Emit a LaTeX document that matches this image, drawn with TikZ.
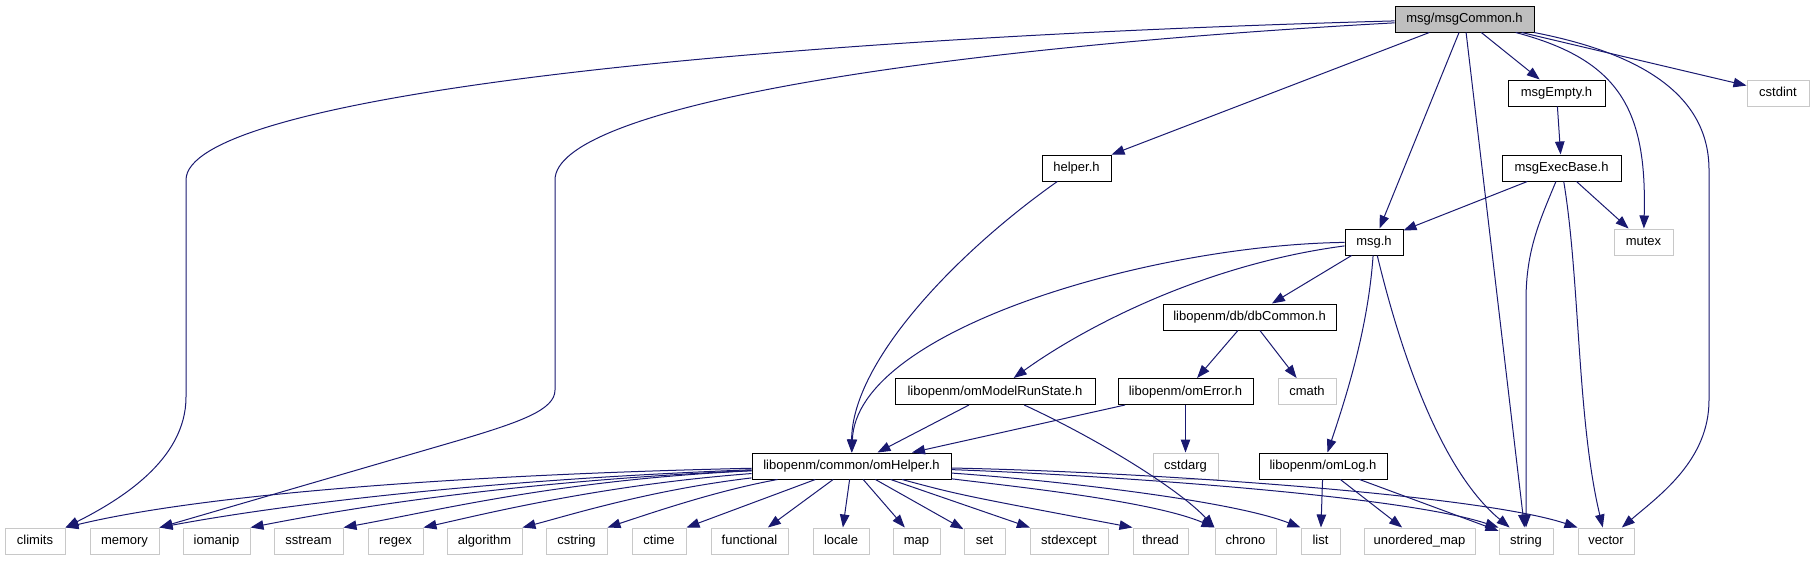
\documentclass[tikz,border=0pt]{standalone}
\usepackage{fontspec}
\setmainfont{Liberation Sans}
\usetikzlibrary{arrows.meta}
\definecolor{linkblue}{RGB}{25,25,112}
\definecolor{rootgrey}{RGB}{191,191,191}
\definecolor{extgrey}{RGB}{200,200,200}

\begin{document}
\begin{tikzpicture}[x=1pt,y=-1pt,
    hdr/.style={draw=black,line width=1pt,fill=white,minimum height=26pt,inner sep=2pt,
        text height=10pt,text depth=2.6pt,font=\fontsize{13}{15}\selectfont},
    sys/.style={hdr,draw=extgrey},
    inc/.style={draw=linkblue,line width=1pt,-{Triangle[length=13pt,width=9.5pt]}}]
        \useasboundingbox (0,0) rectangle (1814,560);
        % fitxers del projecte
        \node[hdr,fill=rootgrey,minimum width=139pt] (msgcommon) at (1464.5,19) {msg/msgCommon.h};
        \node[hdr,minimum width=97pt] (msgempty) at (1556.5,93) {msgEmpty.h};
        \node[hdr,minimum width=119pt] (msgexecbase) at (1561.5,168) {msgExecBase.h};
        \node[hdr,minimum width=69pt] (helper) at (1076.5,168) {helper.h};
        \node[hdr,minimum width=58pt] (msgh) at (1374,242) {msg.h};
        \node[hdr,minimum width=173pt] (dbcommon) at (1249.5,317) {libopenm/db/dbCommon.h};
        \node[hdr,minimum width=200pt] (runstate) at (995,391.5) {libopenm/omModelRunState.h};
        \node[hdr,minimum width=135pt] (omerror) at (1185.5,391.5) {libopenm/omError.h};
        \node[hdr,minimum width=199pt] (omhelper) at (851.5,466) {libopenm/common/omHelper.h};
        \node[hdr,minimum width=128pt] (omlog) at (1323,466) {libopenm/omLog.h};
        % capcaleres del sistema
        \node[sys,minimum width=62pt] (cstdint) at (1778,93) {cstdint};
        \node[sys,minimum width=59pt] (mutex) at (1643.5,242) {mutex};
        \node[sys,minimum width=58pt] (cmath) at (1307,391.5) {cmath};
        \node[sys,minimum width=65pt] (cstdarg) at (1185.5,466) {cstdarg};
        \node[sys,minimum width=60pt] (climits) at (35,541) {climits};
        \node[sys,minimum width=69pt] (memory) at (124.5,541) {memory};
        \node[sys,minimum width=67pt] (iomanip) at (216.5,541) {iomanip};
        \node[sys,minimum width=69pt] (sstream) at (308.5,541) {sstream};
        \node[sys,minimum width=55pt] (regex) at (395.5,541) {regex};
        \node[sys,minimum width=75pt] (algorithm) at (484.5,541) {algorithm};
        \node[sys,minimum width=61pt] (cstring) at (576.5,541) {cstring};
        \node[sys,minimum width=54pt] (ctime) at (659,541) {ctime};
        \node[sys,minimum width=77pt] (functional) at (749.5,541) {functional};
        \node[sys,minimum width=56pt] (locale) at (841,541) {locale};
        \node[sys,minimum width=47pt] (map) at (916.5,541) {map};
        \node[sys,minimum width=41pt] (set) at (984.5,541) {set};
        \node[sys,minimum width=78pt] (stdexcept) at (1069,541) {stdexcept};
        \node[sys,minimum width=55pt] (thread) at (1160.5,541) {thread};
        \node[sys,minimum width=61pt] (chrono) at (1245.5,541) {chrono};
        \node[sys,minimum width=39pt] (list) at (1320.5,541) {list};
        \node[sys,minimum width=111pt] (unordered) at (1419.5,541) {unordered\_map};
        \node[sys,minimum width=54pt] (string) at (1526,541) {string};
        \node[sys,minimum width=56pt] (vector) at (1606,541) {vector};

        % msgCommon.h
        \draw[inc] (msgcommon) .. controls (700,40) and (186,100) .. (186,180) -- (186,397)
            .. controls (186,460) and (120,500) .. (climits.north east);
        \draw[inc] (msgcommon) .. controls (900,50) and (555,110) .. (555,180) -- (555,390)
            .. controls (555,410) and (520,422) .. (460,440) -- (memory.north east);
        \draw[inc] (msgcommon) -- (helper);
        \draw[inc] (msgcommon) -- (msgh);
        \draw[inc] (msgcommon) -- (string);
        \draw[inc] (msgcommon) -- (msgempty);
        \draw[inc] (msgcommon) -- (cstdint);
        \draw[inc] (msgcommon) .. controls (1620,60) and (1647,110) .. (mutex);
        \draw[inc] (msgcommon) .. controls (1650,55) and (1709,100) .. (1709,170) -- (1709,400)
            .. controls (1709,460) and (1660,495) .. (vector);
        % msgEmpty.h, msgExecBase.h
        \draw[inc] (msgempty) -- (msgexecbase);
        \draw[inc] (msgexecbase) -- (msgh);
        \draw[inc] (msgexecbase) .. controls (1540,220) and (1526,250) .. (1526,300) -- (string);
        \draw[inc] (msgexecbase) .. controls (1580,280) and (1577,420) .. (vector);
        \draw[inc] (msgexecbase) -- (mutex);
        % helper.h, msg.h
        \draw[inc] (helper) .. controls (960,250) and (852,360) .. (omhelper);
        \draw[inc] (msgh) .. controls (1150,245) and (856,330) .. (omhelper);
        \draw[inc] (msgh) .. controls (1200,265) and (1080,330) .. (runstate);
        \draw[inc] (msgh) -- (dbcommon);
        \draw[inc] (msgh) .. controls (1368,330) and (1345,400) .. (omlog);
        \draw[inc] (msgh) .. controls (1400,350) and (1440,470) .. (string);
        % libopenm
        \draw[inc] (dbcommon) -- (omerror);
        \draw[inc] (dbcommon) -- (cmath);
        \draw[inc] (runstate) -- (omhelper);
        \draw[inc] (runstate) .. controls (1100,440) and (1180,490) .. (chrono.north west);
        \draw[inc] (omerror) -- (omhelper);
        \draw[inc] (omerror) -- (cstdarg);
        \draw[inc] (omlog) -- (list);
        \draw[inc] (omlog) -- (unordered);
        \draw[inc] (omlog) -- (string);
        % omHelper.h
        \draw[inc] (omhelper) .. controls (450,475) and (200,495) .. (climits.north east);
        \draw[inc] (omhelper) .. controls (480,480) and (280,505) .. (memory.north east);
        \draw[inc] (omhelper) .. controls (500,482) and (340,510) .. (iomanip.north east);
        \draw[inc] (omhelper) .. controls (560,480) and (440,510) .. (sstream.north east);
        \draw[inc] (omhelper) .. controls (600,485) and (480,515) .. (regex.north east);
        \draw[inc] (omhelper) .. controls (650,490) and (570,515) .. (algorithm.north east);
        \draw[inc] (omhelper) .. controls (720,490) and (660,510) .. (cstring.north east);
        \draw[inc] (omhelper) -- (ctime.north east);
        \draw[inc] (omhelper) -- (functional);
        \draw[inc] (omhelper) -- (locale);
        \draw[inc] (omhelper) -- (map);
        \draw[inc] (omhelper) -- (set);
        \draw[inc] (omhelper) -- (stdexcept);
        \draw[inc] (omhelper) .. controls (960,495) .. (thread.north west);
        \draw[inc] (omhelper) .. controls (1000,485) and (1150,500) .. (chrono.north west);
        \draw[inc] (omhelper) .. controls (1050,480) and (1230,500) .. (list.north west);
        \draw[inc] (omhelper) .. controls (1100,475) and (1400,495) .. (string.north west);
        \draw[inc] (omhelper) .. controls (1150,472) and (1480,495) .. (vector.north west);
    \end{tikzpicture}
\end{document}
